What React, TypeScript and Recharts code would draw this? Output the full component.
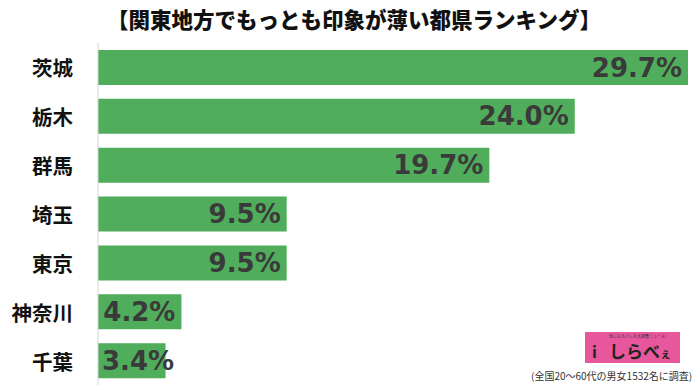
import React from "react";
import { BarChart, Bar, XAxis, YAxis, LabelList } from "recharts";

const categories = ["茨城", "栃木", "群馬", "埼玉", "東京", "神奈川", "千葉"];
const values = [29.7, 24.0, 19.7, 9.5, 9.5, 4.2, 3.4];
const valueLabels = ["29.7%", "24.0%", "19.7%", "9.5%", "9.5%", "4.2%", "3.4%"];
const title = "【関東地方でもっとも印象が薄い都県ランキング】";
const footnote = "(全国20〜60代の男女1532名に調査)";

const data = categories.map((name, i) => ({ name, value: values[i], label: valueLabels[i] }));

const VALUE_FONT = 26;
const charW = (c: string) => (c === "." ? 0.38 : c === "%" ? 1.002 : 0.696);
const textWidth = (s: string) => s.split("").reduce((a, c) => a + charW(c), 0) * VALUE_FONT;

const ValueLabel = (props: any) => {
  const { x, y, width, height, index } = props;
  const text = valueLabels[index];
  const w = textWidth(text);
  const right = Math.max(x + width - 6, x + 4 + w);
  return (
    <text
      x={right}
      y={y + height / 2}
      textAnchor="end"
      dominantBaseline="central"
      fontFamily="'DejaVu Sans', sans-serif"
      fontWeight="bold"
      fontSize={VALUE_FONT}
      fill="#3a3a3a"
    >
      {text}
    </text>
  );
};

const CatTick = (props: any) => {
  const { x, y, payload } = props;
  return (
    <text
      x={x + 1}
      y={y}
      textAnchor="end"
      dominantBaseline="central"
      fontFamily="'Noto Sans CJK JP', sans-serif"
      fontWeight="bold"
      fontSize={20.5}
      fill="#111"
    >
      {payload.value}
    </text>
  );
};

export default function App() {
  return (
    <div style={{ position: "absolute", left: 0, top: 0, width: 700, height: 385, background: "#fff", overflow: "hidden" }}>
      <div
        style={{
          position: "absolute",
          left: 0,
          top: 5,
          width: 708,
          textAlign: "center",
          fontFamily: "'Noto Sans CJK JP', sans-serif",
          fontWeight: 900,
          fontSize: 21.5,
          lineHeight: "28px",
          color: "#111",
        }}
      >
        {title}
      </div>
      <BarChart
        width={700}
        height={385}
        layout="vertical"
        data={data}
        margin={{ top: 43, right: 12, bottom: 0, left: 0 }}
      >
        <XAxis type="number" domain={[0, 29.7]} hide />
        <YAxis
          type="category"
          dataKey="name"
          width={98}
          axisLine={{ stroke: "#d4d4d4", strokeWidth: 1 }}
          tickLine={false}
          tickSize={0}
          tickMargin={26}
          tick={<CatTick />}
          interval={0}
        />
        <Bar dataKey="value" fill="#50ad5b" barSize={35} isAnimationActive={false}>
          <LabelList dataKey="label" content={<ValueLabel />} />
        </Bar>
      </BarChart>
      <div
        style={{
          position: "absolute",
          left: 585,
          top: 332,
          width: 95,
          height: 31,
          background: "#e8579b",
          fontFamily: "'Noto Sans CJK JP', sans-serif",
        }}
      >
        <div style={{ position: "absolute", left: 24, top: 2, fontSize: 4, lineHeight: "5px", color: "#333", whiteSpace: "nowrap" }}>
          気になるアレを大調査ニュース!
        </div>
        <div style={{ position: "absolute", left: 7, top: 10, fontSize: 16, lineHeight: "18px", fontWeight: "bold", color: "#222", whiteSpace: "nowrap" }}>
          i
        </div>
        <div style={{ position: "absolute", left: 24, top: 9, fontSize: 17, lineHeight: "20px", fontWeight: "bold", color: "#222", whiteSpace: "nowrap" }}>
          しらべ<span style={{ fontSize: 11 }}>ぇ</span>
        </div>
      </div>
      <div
        style={{
          position: "absolute",
          left: 531,
          top: 369,
          fontFamily: "'Noto Sans CJK JP', sans-serif",
          fontSize: 10,
          lineHeight: "14px",
          color: "#333",
          whiteSpace: "nowrap",
        }}
      >
        {footnote}
      </div>
    </div>
  );
}
